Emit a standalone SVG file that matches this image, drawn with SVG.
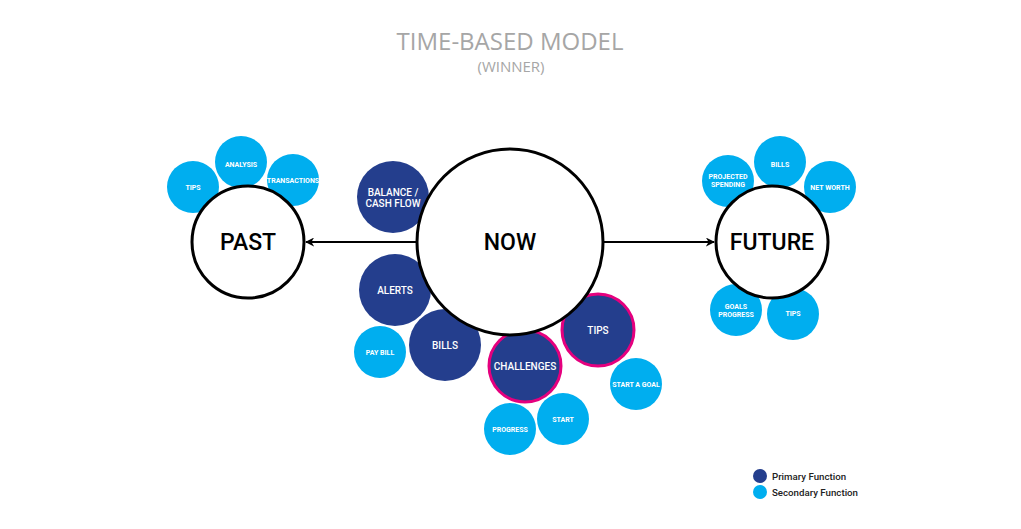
<svg xmlns="http://www.w3.org/2000/svg" width="1021" height="529" viewBox="0 0 1021 529">
<defs>
<marker id="ah" viewBox="0 0 10 10" refX="9" refY="5" markerWidth="4.5" markerHeight="4.5" orient="auto-start-reverse" markerUnits="strokeWidth">
<path d="M0,0 L10,5 L0,10 L3,5 Z" fill="#000"/>
</marker>
<style>
.sec{fill:#00AEEF}
.pri{fill:#243E8D}
.hl{stroke:#E5007E;stroke-width:3}
.main{fill:#fff;stroke:#000;stroke-width:3}
.st{font-family:Roboto,"Liberation Sans",sans-serif;font-weight:700;fill:#fff;font-size:7px;text-anchor:middle}
.pt{font-family:Roboto,"Liberation Sans",sans-serif;font-weight:500;fill:#fff;font-size:10px;text-anchor:middle}
.mt{font-family:Roboto,"Liberation Sans",sans-serif;font-weight:500;fill:#000;font-size:23px;text-anchor:middle}
.title{font-family:"Open Sans","Liberation Sans",sans-serif;fill:#A6A6A6;text-anchor:middle}
.t1{font-weight:500;font-size:24px}
.t2{font-weight:400;font-size:15px}
.lg{font-family:Roboto,"Liberation Sans",sans-serif;font-weight:500;fill:#222;font-size:9.7px}
</style>
</defs>
<rect width="1021" height="529" fill="#fff"/>
<text class="title t1" x="510" y="50">TIME-BASED MODEL</text>
<text class="title t2" x="511" y="72">(WINNER)</text>

<!-- past secondary -->
<g id="past-tips"><circle class="sec" cx="193" cy="187" r="26"/><text class="st" x="193" y="190">TIPS</text></g>
<g id="past-analysis"><circle class="sec" cx="241" cy="162" r="26"/><text class="st" x="241" y="167">ANALYSIS</text></g>
<g id="past-transactions"><circle class="sec" cx="293" cy="180" r="26"/><text class="st" x="293" y="183">TRANSACTIONS</text></g>

<!-- future secondary -->
<g id="future-projected"><circle class="sec" cx="728" cy="181" r="26"/><text class="st" x="728" y="179">PROJECTED</text><text class="st" x="728" y="187">SPENDING</text></g>
<g id="future-bills"><circle class="sec" cx="780" cy="162" r="26"/><text class="st" x="780" y="167">BILLS</text></g>
<g id="future-networth"><circle class="sec" cx="830" cy="187" r="26"/><text class="st" x="830" y="190">NET WORTH</text></g>
<g id="future-goals"><circle class="sec" cx="736" cy="310" r="26"/><text class="st" x="736" y="309">GOALS</text><text class="st" x="736" y="317">PROGRESS</text></g>
<g id="future-tips"><circle class="sec" cx="793" cy="314" r="26"/><text class="st" x="793" y="316">TIPS</text></g>

<!-- now cluster -->
<g id="now-paybill"><circle class="sec" cx="380" cy="352" r="26"/><text class="st" x="380" y="355">PAY BILL</text></g>
<g id="now-progress"><circle class="sec" cx="510" cy="429" r="26"/><text class="st" x="510" y="432">PROGRESS</text></g>
<g id="now-start"><circle class="sec" cx="563" cy="419" r="26"/><text class="st" x="563" y="422">START</text></g>
<g id="now-startgoal"><circle class="sec" cx="636" cy="384" r="26"/><text class="st" x="636" y="387">START A GOAL</text></g>
<g id="now-balance"><circle class="pri" cx="393" cy="197" r="36"/><text class="pt" x="393" y="196">BALANCE /</text><text class="pt" x="393" y="207">CASH FLOW</text></g>
<g id="now-alerts"><circle class="pri" cx="395" cy="290" r="36"/><text class="pt" x="395" y="294">ALERTS</text></g>
<g id="now-bills"><circle class="pri" cx="445" cy="345" r="36"/><text class="pt" x="445" y="349">BILLS</text></g>
<g id="now-challenges"><circle class="pri hl" cx="525" cy="366" r="36"/><text class="pt" x="525" y="370">CHALLENGES</text></g>
<g id="now-tips"><circle class="pri hl" cx="598" cy="330" r="36"/><text class="pt" x="598" y="334">TIPS</text></g>

<!-- connectors -->
<g id="connectors" stroke="#000" stroke-width="2" fill="none">
<line x1="416" y1="242" x2="306" y2="242" marker-end="url(#ah)"/>
<line x1="604" y1="242" x2="714" y2="242" marker-end="url(#ah)"/>
</g>

<!-- main nodes -->
<g id="past"><circle class="main" cx="248" cy="242" r="56"/><text class="mt" x="248" y="250">PAST</text></g>
<g id="now"><circle class="main" cx="510" cy="242" r="93"/><text class="mt" x="510" y="250">NOW</text></g>
<g id="future"><circle class="main" cx="772" cy="242" r="56"/><text class="mt" x="772" y="250">FUTURE</text></g>

<!-- legend -->
<g id="legend">
<circle class="pri" cx="760" cy="476" r="7"/><text class="lg" x="772" y="479.5">Primary Function</text>
<circle class="sec" cx="760" cy="492" r="7"/><text class="lg" x="772" y="495.5">Secondary Function</text>
</g>
</svg>
